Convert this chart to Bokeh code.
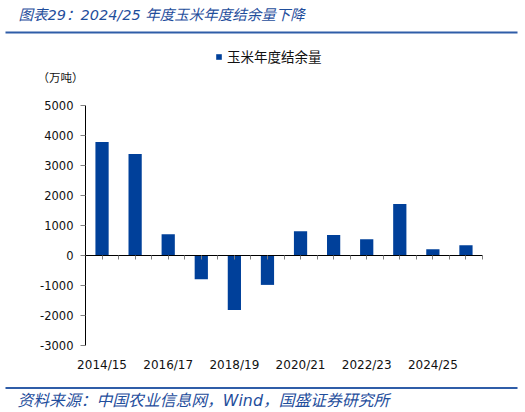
from bokeh.plotting import figure
from bokeh.models import (Range1d, LinearAxis, FixedTicker, Legend, LegendItem,
                          ColumnDataSource, BoxAnnotation)
from bokeh.core.properties import value
from bokeh.embed import file_html
from bokeh.resources import INLINE

# ---- data ----
seasons = ["2014/15", "2015/16", "2016/17", "2017/18", "2018/19", "2019/20",
           "2020/21", "2021/22", "2022/23", "2023/24", "2024/25", "2025/26"]
surplus = [3780, 3380, 710, -790, -1820, -980, 810, 680, 545, 1715, 210, 345]
y_ticks = [-3000, -2000, -1000, 0, 1000, 2000, 3000, 4000, 5000]
label_every = 2

title_text = "图表29：2024/25 年度玉米年度结余量下降"
source_text = "资料来源：中国农业信息网，Wind，国盛证券研究所"
unit_text = "（万吨）"
series_name = "玉米年度结余量"

# ---- styling / layout (pixels) ----
BAR = "#00409A"
BLUE_TXT = "#1F4E9C"
RULE = "#2F5DA8"
LAT = "DejaVu Sans, Noto Sans CJK SC"
CJK = "Noto Sans CJK SC"

W, H = 525, 412
PX_L, PX_R = 85, 482      # plot area left / right edge
PX_T, PX_B = 105, 345     # plot area top / bottom edge

n = len(seasons)
xs = [i + 1 for i in range(n)]
x_lo, x_hi = 0.5, n + 0.5
y_lo, y_hi = y_ticks[0], y_ticks[-1]

# whole canvas is the frame; axes are drawn at fixed locations inside it
ux = (x_hi - x_lo) / (PX_R - PX_L)
uy = (y_hi - y_lo) / (PX_B - PX_T)
x_range = Range1d(x_lo - PX_L * ux, x_hi + (W - PX_R) * ux)
y_range = Range1d(y_lo - (H - PX_B) * uy, y_hi + PX_T * uy)


def at_px(px, py):
    """canvas pixel position (from top-left) -> plot coordinates"""
    return x_range.start + px * ux, y_range.end - py * uy


src = ColumnDataSource(dict(x=xs, top=surplus, season=seasons))

p = figure(width=W, height=H, output_backend="svg", toolbar_location=None,
           x_range=x_range, y_range=y_range,
           x_axis_location=None, y_axis_location=None,
           min_border=0, min_border_left=0, min_border_right=0,
           min_border_top=0, min_border_bottom=0)
p.outline_line_color = None
p.grid.visible = False
p.background_fill_color = "white"
p.border_fill_color = "white"

r = p.vbar(x="x", top="top", width=0.4, source=src, fill_color=BAR, line_color=None)

# y axis
ya = LinearAxis(fixed_location=x_lo, bounds=(y_lo, y_hi), ticker=FixedTicker(ticks=y_ticks),
                major_label_overrides={t: str(t) for t in y_ticks})
ya.axis_line_color = "black"
ya.axis_line_width = 1
ya.major_tick_in = 0
ya.major_tick_out = 5
ya.major_tick_line_color = "#808080"
ya.minor_tick_line_color = None
ya.major_label_text_font = "DejaVu Sans"
ya.major_label_text_font_size = "11.5px"
ya.major_label_text_color = "#111111"
ya.major_label_standoff = 7
p.add_layout(ya, "left")

# zero line with ticks every half category
half_ticks = [x_lo + 0.5 * k for k in range(2 * n + 1)]
za = LinearAxis(fixed_location=0, bounds=(x_lo, x_hi), ticker=FixedTicker(ticks=half_ticks))
za.axis_line_color = "black"
za.axis_line_width = 1
za.major_tick_in = 0
za.major_tick_out = 4
za.major_tick_line_color = "#808080"
za.minor_tick_line_color = None
za.major_label_text_font_size = "0px"
za.major_label_text_alpha = 0
p.add_layout(za, "below")

# category labels along the bottom of the plot area
lab_pos = xs[::label_every]
ba = LinearAxis(fixed_location=y_lo, bounds=(x_lo, x_hi), ticker=FixedTicker(ticks=lab_pos),
                major_label_overrides={x: seasons[x - 1] for x in lab_pos})
ba.axis_line_color = None
ba.major_tick_line_color = None
ba.minor_tick_line_color = None
ba.major_tick_in = 0
ba.major_tick_out = 0
ba.major_label_standoff = 12
ba.major_label_text_font = "DejaVu Sans"
ba.major_label_text_font_size = "12px"
ba.major_label_text_color = "#111111"
p.add_layout(ba, "below")

# legend
leg = Legend(items=[LegendItem(label=series_name, renderers=[r])],
             location=(215, H - 66), orientation="horizontal",
             glyph_width=7, glyph_height=7, label_standoff=5,
             padding=0, margin=0, spacing=0,
             label_text_font=CJK, label_text_font_size="13.5px",
             label_text_color="#111111", label_height=14, label_text_baseline="middle",
             border_line_color=None, background_fill_alpha=0)
p.add_layout(leg, "center")

# texts
tx, ty = at_px(18, 14)
p.text(x=[tx], y=[ty], text=[title_text], text_font=value(LAT),
       text_font_style="italic", text_font_size="14.5px", text_color=BLUE_TXT,
       text_baseline="middle", text_align="left")
ux_, uy_ = at_px(37, 76)
p.text(x=[ux_], y=[uy_], text=[unit_text], text_font=value(CJK),
       text_font_size="11.5px", text_color="#111111",
       text_baseline="middle", text_align="left")
sx, sy = at_px(17, 400)
p.text(x=[sx], y=[sy], text=[source_text], text_font=value(LAT),
       text_font_style="italic", text_font_size="15.8px", text_color=BLUE_TXT,
       text_baseline="middle", text_align="left")

# horizontal rules under the title and above the source line
for top, bot in [(31, 33), (386.5, 388.5)]:
    p.add_layout(BoxAnnotation(left=5, right=517, top=top, bottom=bot,
                               left_units="canvas", right_units="canvas",
                               top_units="canvas", bottom_units="canvas",
                               fill_color=RULE, fill_alpha=1, line_color=None,
                               line_alpha=0))

open("out.html", "w").write(file_html(p, INLINE))
